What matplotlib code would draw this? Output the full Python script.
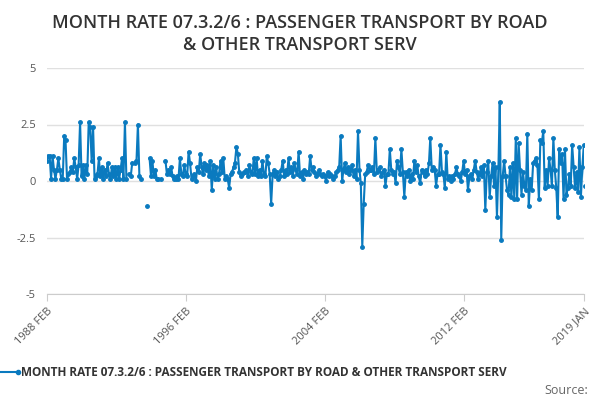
import numpy as np
import pandas as pd
import matplotlib
matplotlib.use("Agg")
import matplotlib.pyplot as plt

plt.rcParams['font.family'] = ['Open Sans', 'DejaVu Sans']
nan = np.nan
years = [
 [0.9,1.1,1.1,0.1,1.1,0.5,0.1,0.5,1.0,0.5,0.1],
 [0.1,2.0,1.8,0.1,0.3,0.4,0.6,0.4,1.0,0.6,0.1,0.7],
 [2.6,0.2,0.7,0.1,0.7,0.3,2.6,2.4,0.9,2.4,0.1,0.2],
 [0.3,1.0,0.2,0.6,0.1,0.5,0.2,0.8,0.3,0.1,0.6],
 [0.2,0.6,0.1,0.6,0.1,0.5,1.0,0.1,2.6,0.1,nan,0.3],
 [0.2,0.8,nan,0.8,0.9,2.5,0.2,0.1,nan,nan,nan,-1.1],
 [nan,1.0,0.2,0.9,0.2,0.5,0.1,0.1,nan,0.1,nan,nan],
 [0.9,0.3,0.5,0.3,0.6,0.2,0.1,0.1,0.2,0.1,1.0,0.3],
 [0.2,0.7,0.3,0.2,1.3,0.8,0.1,0.2,0.3,0.0,0.6,0.4],
 [1.2,0.6,0.3,0.8,0.5,0.7,0.2,0.9,-0.4,0.7,0.1,0.6],
 [0.1,0.3,0.9,0.4,1.0,0.1,0.2,0.1,-0.3,0.3,0.4,0.6],
 [0.8,1.5,1.2,0.4,0.2,0.3,0.4,0.4,0.5,0.2,0.7,0.4],
 [0.3,1.0,0.3,1.0,0.2,0.5,0.2,0.9,0.3,0.2,1.1,0.8],
 [0.3,-1.0,0.3,0.5,0.2,0.4,0.1,0.2,0.5,0.9,0.2,0.5],
 [0.3,1.0,0.4,0.6,0.2,0.8,0.5,0.3,1.3,0.2,0.4,0.1],
 [0.5,0.3,0.4,0.3,1.1,0.5,0.6,0.4,0.2,0.3,0.5,0.3],
 [0.2,0.3,0.2,0.0,0.4,0.2,0.3,0.2,0.1,0.2,0.4],
 [0.5,0.6,2.0,0.0,0.5,0.8,0.4,0.6,0.3,0.5,0.7,0.2],
 [0.5,0.1,2.2,0.5,-0.1,-2.9,-1.0,0.3,0.4,0.7,0.5,0.5],
 [0.6,0.3,1.9,0.4,0.5,0.6,0.2,0.4,0.5,-0.2,0.3,0.3],
 [1.4,0.5,0.3,0.4,-0.1,0.9,0.6,0.3,1.4,0.4,-0.7,0.4],
 [0.2,0.5,0.0,0.3,0.1,0.9,0.4,0.7,0.2,-0.1,0.5,0.4],
 [0.2,0.5,0.3,0.8,1.9,0.5,0.6,0.5],
 [-0.2,0.3,0.3,1.6,0.4,0.3,-0.3,1.3,0.1,0.2,0.0,0.2],
 [0.1,0.3,0.6,0.3,0.2,0.0,0.4,0.9,0.3,0.5,-0.4,0.2],
 [0.3,0.1,0.5,0.9,0.4,0.1,0.3,0.6,0.2,0.7,-1.3,0.4],
 [0.9,-0.7,0.2,0.8,-0.2,0.6,-1.6,0.6,3.5,-2.6,0.2,0.9],
 [0.2,-0.4,-0.6,0.6,-0.7,0.8,-0.8,1.9,-0.8,1.7,0.5,-0.6],
 [0.4,-0.2,-0.4,2.1,-1.1,0.1,-0.4,0.8,0.9,1.0,0.7,-0.8],
 [1.8,1.7,2.2,-0.3,0.5,-0.2,1.0,0.5,-0.2,1.9],
 [0.5,-0.3,-1.6,1.4,0.8,1.2,-0.8,1.4,-0.6,-0.3],
 [0.3,-0.2,1.6,0.6,-0.3,0.4,-0.5,1.5,-0.7,0.6,1.6,-0.2],
 [-0.5],
]
values = np.array([v for y in years for v in y])
dates = pd.date_range('1988-02-01', periods=len(values), freq='MS')
tick_labels = ['1988 FEB', '1996 FEB', '2004 FEB', '2012 FEB', '2019 JAN']
tick_dates = [pd.Timestamp(s) for s in ['1988-02-01','1996-02-01','2004-02-01','2012-02-01','2019-01-01']]

fig = plt.figure(figsize=(6, 4), dpi=100)
ax = fig.add_axes([0.078, 0.265, 0.895, 0.565])
c = '#0a7abf'
ax.plot(dates, values, color=c, lw=1.5, marker='o', ms=2.5)
ax.set_ylim(-5, 5)
ax.set_yticks([-5, -2.5, 0, 2.5, 5])
ax.set_yticklabels(['-5', '-2.5', '0', '2.5', '5'])
ax.set_xlim(tick_dates[0], tick_dates[-1])
ax.set_xticks(tick_dates)
ax.set_xticklabels(tick_labels, rotation=45, ha='right', rotation_mode='anchor')
ax.grid(axis='y', color='#e0e0e0', lw=1)
for s in ['top', 'right', 'left']:
    ax.spines[s].set_visible(False)
ax.spines['bottom'].set_color('#cccccc')
ax.tick_params(axis='y', length=0, labelsize=8, colors='#555555', pad=8)
ax.tick_params(axis='x', length=5, color='#cccccc', labelsize=8, colors='#555555')
fig.text(0.5, 0.965, 'MONTH RATE 07.3.2/6 : PASSENGER TRANSPORT BY ROAD\n& OTHER TRANSPORT SERV',
         ha='center', va='top', fontsize=13, color='#333333', linespacing=1.3, fontweight=600)
fig.lines.append(plt.Line2D([0.0, 0.03], [0.07, 0.07], transform=fig.transFigure, color=c, lw=1.5, marker='o', ms=3, markevery=[1]))
fig.text(0.035, 0.07, 'MONTH RATE 07.3.2/6 : PASSENGER TRANSPORT BY ROAD & OTHER TRANSPORT SERV',
         va='center', fontsize=8.5, color='#333333', fontweight='bold')
fig.text(0.98, 0.025, 'Source:', ha='right', va='center', fontsize=9, color='#666666')
fig.savefig('out.png')
